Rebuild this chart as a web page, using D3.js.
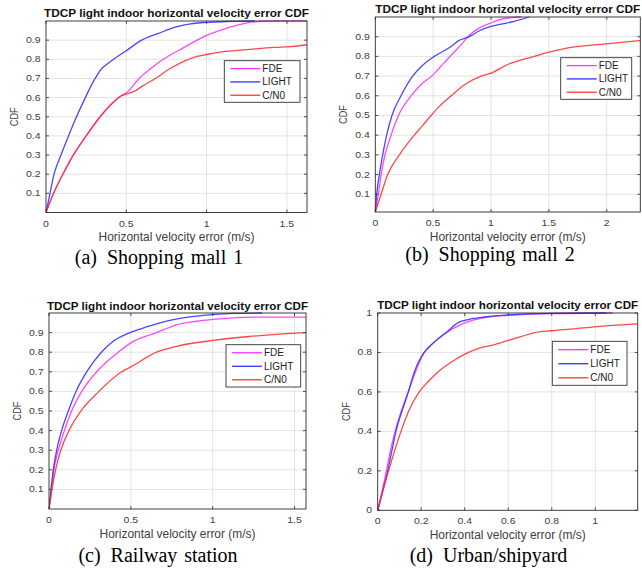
<!DOCTYPE html>
<html>
<head>
<meta charset="utf-8">
<script src="https://cdn.jsdelivr.net/npm/d3@7/dist/d3.min.js"></script>
<style>
  html, body { margin: 0; padding: 0; background: #fff; }
  svg { display: block; }
</style>
</head>
<body>
<svg id="chart" width="642" height="570"></svg>
<script>
// ---------------- DATA ----------------
const seriesNames = ["FDE", "LIGHT", "C/N0"];
const chartTitle = "TDCP light indoor horizontal velocity error CDF";
const xAxisLabel = "Horizontal velocity error (m/s)";
const yAxisLabel = "CDF";
const captions = ["(a)", "Shopping mall 1", "(b)", "Shopping mall 2", "(c)", "Railway station", "(d)", "Urban/shipyard"];

// (a) Shopping mall 1  -- [error m/s, CDF]
const mall1Fde = [[0,0],[0.047,0.1],[0.105,0.2],[0.17,0.3],[0.25,0.4],[0.337,0.5],[0.4,0.56],[0.47,0.61],[0.5,0.625],[0.586,0.705],[0.65,0.75],[0.73,0.8],[0.855,0.86],[0.94,0.9],[1.0,0.925],[1.08,0.95],[1.126,0.963],[1.2,0.98],[1.29,0.995],[1.4,1.0],[1.625,1.0]];
const mall1Light = [[0,0],[0.02,0.08],[0.05,0.2],[0.093,0.3],[0.14,0.4],[0.19,0.5],[0.245,0.6],[0.306,0.7],[0.35,0.755],[0.37,0.768],[0.42,0.8],[0.5,0.845],[0.596,0.9],[0.7,0.935],[0.815,0.97],[0.9,0.985],[1.0,0.993],[1.15,0.998],[1.3,1.0]];
const mall1Cn0 = [[0,0],[0.047,0.1],[0.105,0.2],[0.17,0.3],[0.25,0.4],[0.337,0.5],[0.4,0.56],[0.47,0.61],[0.5,0.618],[0.555,0.635],[0.6,0.66],[0.65,0.684],[0.7,0.71],[0.75,0.74],[0.835,0.78],[0.94,0.815],[1.0,0.825],[1.085,0.838],[1.25,0.85],[1.418,0.862],[1.54,0.867],[1.625,0.876]];

// (b) Shopping mall 2
const mall2Fde = [[0,0.01],[0.026,0.1],[0.05,0.2],[0.084,0.3],[0.136,0.4],[0.2,0.5],[0.309,0.6],[0.4,0.66],[0.497,0.705],[0.58,0.758],[0.67,0.815],[0.75,0.865],[0.8,0.9],[0.9,0.945],[1.0,0.97],[1.1,0.99],[1.2,0.998],[1.26,1.0]];
const mall2Light = [[0,0.01],[0.012,0.1],[0.035,0.2],[0.064,0.3],[0.098,0.4],[0.144,0.5],[0.222,0.6],[0.323,0.7],[0.4,0.75],[0.51,0.8],[0.655,0.85],[0.72,0.88],[0.813,0.9],[0.9,0.93],[1.0,0.952],[1.1,0.965],[1.2,0.978],[1.33,1.0]];
const mall2Cn0 = [[0,0.01],[0.05,0.1],[0.107,0.2],[0.208,0.3],[0.337,0.4],[0.41,0.45],[0.482,0.5],[0.56,0.55],[0.655,0.6],[0.78,0.66],[0.914,0.7],[1.0,0.715],[1.15,0.76],[1.375,0.8],[1.49,0.82],[1.635,0.84],[1.92,0.86],[2.1,0.87],[2.29,0.88]];

// (c) Railway station
const railFde = [[0,0],[0.016,0.1],[0.03,0.2],[0.057,0.3],[0.094,0.4],[0.138,0.5],[0.2,0.6],[0.291,0.7],[0.423,0.8],[0.505,0.85],[0.657,0.9],[0.78,0.94],[0.9,0.958],[1.0,0.967],[1.125,0.975],[1.3,0.979],[1.57,0.979]];
const railLight = [[0,0],[0.012,0.1],[0.026,0.2],[0.047,0.3],[0.077,0.4],[0.118,0.5],[0.165,0.6],[0.23,0.7],[0.32,0.8],[0.383,0.85],[0.495,0.9],[0.6,0.93],[0.678,0.95],[0.86,0.98],[1.0,0.992],[1.125,0.998],[1.3,1.0]];
const railCn0 = [[0,0],[0.018,0.1],[0.04,0.2],[0.072,0.3],[0.122,0.4],[0.195,0.5],[0.305,0.6],[0.444,0.7],[0.5,0.725],[0.657,0.8],[0.78,0.83],[1.0,0.86],[1.22,0.88],[1.37,0.89],[1.57,0.9]];

// (d) Urban/shipyard
const urbanFde = [[0,0],[0.04,0.2],[0.058,0.3],[0.08,0.4],[0.14,0.6],[0.214,0.8],[0.268,0.86],[0.314,0.9],[0.37,0.935],[0.4,0.95],[0.5,0.978],[0.6,0.988],[0.8,0.997],[1.08,1.0]];
const urbanLight = [[0,0],[0.046,0.2],[0.084,0.4],[0.141,0.6],[0.168,0.7],[0.214,0.8],[0.23,0.82],[0.268,0.86],[0.314,0.9],[0.368,0.95],[0.4,0.963],[0.5,0.981],[0.6,0.99],[0.8,0.998],[1.05,1.0]];
const urbanCn0 = [[0,0],[0.05,0.2],[0.107,0.4],[0.141,0.5],[0.191,0.6],[0.23,0.65],[0.276,0.7],[0.337,0.75],[0.398,0.79],[0.46,0.82],[0.536,0.84],[0.597,0.86],[0.659,0.88],[0.72,0.9],[0.796,0.91],[0.903,0.92],[0.995,0.93],[1.118,0.94],[1.195,0.945]];

// tick values / labels
const xTicksHalf = [0, 0.5, 1, 1.5];
const xTicksHalfLong = [0, 0.5, 1, 1.5, 2];
const xTicksFifth = [0, 0.2, 0.4, 0.6, 0.8, 1];
const yTicksTenth = [0.1, 0.2, 0.3, 0.4, 0.5, 0.6, 0.7, 0.8, 0.9];
const yTicksFifth = [0, 0.2, 0.4, 0.6, 0.8, 1];
const yGridTenth = [0.1, 0.2, 0.3, 0.4, 0.5, 0.6, 0.7, 0.8, 0.9, 1];

// ---------------- STYLE / LAYOUT ----------------
const colors = { "FDE": "#ff33ff", "LIGHT": "#3333ff", "C/N0": "#ff3333" };
const sans = "'Liberation Sans', Arial, Helvetica, sans-serif";
const serif = "'Liberation Serif', 'Times New Roman', Times, serif";

const panels = [
  { box: {l: 46, r: 307, t: 21, b: 212.5}, xDom: [0, 1.625], yDom: [0, 1],
    xTicks: xTicksHalf, yTicks: yTicksTenth, yGrid: yGridTenth,
    series: [mall1Fde, mall1Light, mall1Cn0],
    titleY: 17, titleW: 265, cap: [captions[0], captions[1]], capX: 159, capY: 264,
    legend: {x: 224.3, y: 60.7, w: 75.7, h: 41.6} },
  { box: {l: 375.3, r: 640.3, t: 17, b: 212}, xDom: [0, 2.29], yDom: [0.01, 1],
    xTicks: xTicksHalfLong, yTicks: yTicksTenth, yGrid: yGridTenth,
    series: [mall2Fde, mall2Light, mall2Cn0],
    titleY: 12.5, titleW: 265, cap: [captions[2], captions[3]], capX: 490, capY: 261,
    legend: {x: 560.7, y: 57.7, w: 71, h: 41.6} },
  { box: {l: 49, r: 306, t: 313, b: 509}, xDom: [0, 1.57], yDom: [0, 1],
    xTicks: xTicksHalf, yTicks: yTicksTenth, yGrid: yGridTenth,
    series: [railFde, railLight, railCn0],
    titleY: 309.5, titleW: 261, cap: [captions[4], captions[5]], capX: 158, capY: 562,
    legend: {x: 226, y: 344.7, w: 74.7, h: 42.3} },
  { box: {l: 377.7, r: 637.7, t: 313, b: 510.3}, xDom: [0, 1.195], yDom: [0, 1],
    xTicks: xTicksFifth, yTicks: yTicksFifth, yGrid: yTicksFifth,
    series: [urbanFde, urbanLight, urbanCn0],
    titleY: 308.5, titleW: 261, cap: [captions[6], captions[7]], capX: 488.5, capY: 562,
    legend: {x: 552.3, y: 341.3, w: 74.7, h: 44} }
];

const svg = d3.select("#chart");
svg.append("rect").attr("width", 642).attr("height", 570).attr("fill", "#fff");

const fmt = v => (Math.round(v * 10) / 10).toString();

panels.forEach(p => {
  const g = svg.append("g");
  const x = d3.scaleLinear().domain(p.xDom).range([p.box.l, p.box.r]);
  const y = d3.scaleLinear().domain(p.yDom).range([p.box.b, p.box.t]);
  const cx = (p.box.l + p.box.r) / 2, cy = (p.box.t + p.box.b) / 2;

  g.append("rect").attr("x", p.box.l).attr("y", p.box.t)
    .attr("width", p.box.r - p.box.l).attr("height", p.box.b - p.box.t).attr("fill", "#fff");

  // grid
  g.selectAll(".vg").data(p.xTicks.filter(t => t > p.xDom[0] && t < p.xDom[1])).enter().append("line")
    .attr("x1", d => x(d)).attr("x2", d => x(d)).attr("y1", p.box.t).attr("y2", p.box.b)
    .attr("stroke", "#e3e3e3").attr("stroke-width", 1);
  g.selectAll(".hg").data(p.yGrid.filter(t => t > p.yDom[0] && t < p.yDom[1])).enter().append("line")
    .attr("x1", p.box.l).attr("x2", p.box.r).attr("y1", d => y(d)).attr("y2", d => y(d))
    .attr("stroke", "#e3e3e3").attr("stroke-width", 1);

  // curves
  const line = d3.line().x(d => x(d[0])).y(d => y(d[1])).curve(d3.curveMonotoneX);
  const clipId = "clip" + Math.round(p.box.l) + Math.round(p.box.t);
  g.append("clipPath").attr("id", clipId).append("rect")
    .attr("x", p.box.l).attr("y", p.box.t - 1).attr("width", p.box.r - p.box.l).attr("height", p.box.b - p.box.t + 2);
  p.series.forEach((s, i) => {
    g.append("path").datum(s).attr("d", line).attr("fill", "none")
      .attr("clip-path", `url(#${clipId})`)
      .attr("stroke", colors[seriesNames[i]]).attr("stroke-width", 1.3).attr("stroke-opacity", 0.9);
  });

  // box + inward ticks
  const axisCol = "#2b2b2b";
  g.append("rect").attr("x", p.box.l).attr("y", p.box.t)
    .attr("width", p.box.r - p.box.l).attr("height", p.box.b - p.box.t)
    .attr("fill", "none").attr("stroke", axisCol).attr("stroke-width", 0.9);
  const tl = 3;
  p.xTicks.forEach(t => {
    g.append("line").attr("x1", x(t)).attr("x2", x(t)).attr("y1", p.box.b).attr("y2", p.box.b - tl).attr("stroke", axisCol).attr("stroke-width", 0.8);
    g.append("line").attr("x1", x(t)).attr("x2", x(t)).attr("y1", p.box.t).attr("y2", p.box.t + tl).attr("stroke", axisCol).attr("stroke-width", 0.8);
  });
  p.yTicks.forEach(t => {
    g.append("line").attr("x1", p.box.l).attr("x2", p.box.l + tl).attr("y1", y(t)).attr("y2", y(t)).attr("stroke", axisCol).attr("stroke-width", 0.8);
    g.append("line").attr("x1", p.box.r).attr("x2", p.box.r - tl).attr("y1", y(t)).attr("y2", y(t)).attr("stroke", axisCol).attr("stroke-width", 0.8);
  });

  // tick labels
  const tickCol = "#404040";
  p.xTicks.forEach(t => {
    g.append("text").attr("transform", `translate(${x(t)},${p.box.b + 14}) scale(1,0.8)`)
      .attr("text-anchor", "middle").attr("font-family", sans).attr("font-size", 10.5)
      .attr("fill", tickCol).text(fmt(t));
  });
  p.yTicks.forEach(t => {
    g.append("text").attr("transform", `translate(${p.box.l - 5.5},${y(t) + 3}) scale(1,0.8)`)
      .attr("text-anchor", "end").attr("font-family", sans).attr("font-size", 10.5)
      .attr("fill", tickCol).text(fmt(t));
  });

  // axis labels
  g.append("text").attr("x", cx).attr("y", p.box.b + 28.5).attr("text-anchor", "middle")
    .attr("font-family", sans).attr("font-size", 12).attr("fill", tickCol)
    .attr("textLength", 156).attr("lengthAdjust", "spacingAndGlyphs").text(xAxisLabel);
  g.append("text").attr("transform", `translate(${p.box.l - 28},${cy}) rotate(-90) scale(0.8,1)`)
    .attr("text-anchor", "middle").attr("font-family", sans).attr("font-size", 11.5)
    .attr("fill", tickCol).text(yAxisLabel);

  // title
  g.append("text").attr("x", cx).attr("y", p.titleY).attr("text-anchor", "middle")
    .attr("font-family", sans).attr("font-size", 11).attr("font-weight", "bold")
    .attr("textLength", p.titleW).attr("lengthAdjust", "spacingAndGlyphs")
    .attr("fill", "#111").text(chartTitle);

  // legend
  const L = p.legend;
  g.append("rect").attr("x", L.x).attr("y", L.y).attr("width", L.w).attr("height", L.h)
    .attr("fill", "#fff").attr("stroke", "#333").attr("stroke-width", 0.9);
  seriesNames.forEach((n, i) => {
    const ry = L.y + L.h * (0.19 + i * 0.32);
    g.append("line").attr("x1", L.x + 6).attr("x2", L.x + 36).attr("y1", ry).attr("y2", ry)
      .attr("stroke", colors[n]).attr("stroke-width", 1.3);
    g.append("text").attr("x", L.x + 38).attr("y", ry + 3.5)
      .attr("font-family", sans).attr("font-size", 10).attr("fill", "#222").text(n);
  });

  // caption
  const cap = svg.append("text").attr("x", p.capX).attr("y", p.capY).attr("text-anchor", "middle")
    .attr("font-family", serif).attr("font-size", 20).attr("word-spacing", 2).attr("fill", "#000");
  cap.append("tspan").text(p.cap[0]);
  cap.append("tspan").attr("dx", 10).text(p.cap[1]);
});
</script>
</body>
</html>
